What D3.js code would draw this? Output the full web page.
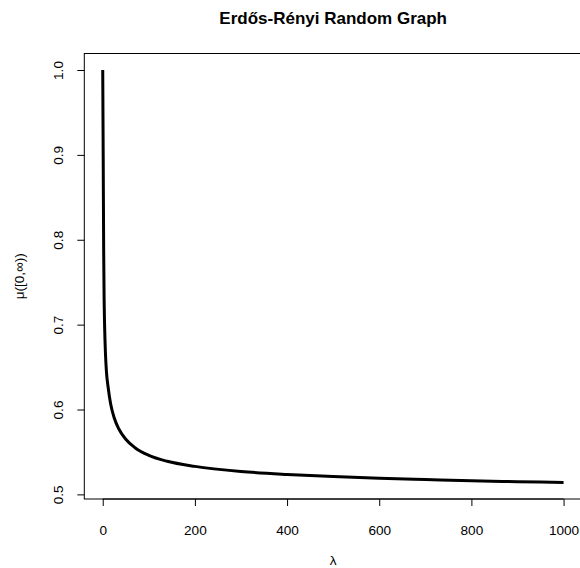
<!DOCTYPE html>
<html>
<head>
<meta charset="utf-8">
<script src="https://cdn.jsdelivr.net/npm/d3@7"></script>
<style>
  body { margin: 0; background: #fff; }
  text { font-family: "Liberation Sans", Arial, Helvetica, sans-serif; fill: #000; }
</style>
</head>
<body>
<div class="chart"></div>
<script>
const lambdas = [0, 1, 2, 3, 4, 6, 8, 12, 17, 25, 35, 50, 70, 100, 140, 200, 300, 400, 500, 600, 700, 800, 900, 1000];
const mu = [1.0, 0.9, 0.79, 0.73, 0.7, 0.665, 0.645, 0.625, 0.607, 0.59, 0.577, 0.565, 0.555, 0.546, 0.539, 0.533, 0.527, 0.5235, 0.521, 0.519, 0.5175, 0.516, 0.515, 0.514];
const xTicks = [0, 200, 400, 600, 800, 1000];
const yTicks = [0.5, 0.6, 0.7, 0.8, 0.9, 1.0];

const width = 580,
  height = 568;
const plot = { left: 84.3, right: 582, top: 53.5, bottom: 499 };

const svg = d3
  .select(".chart")
  .append("svg")
  .attr("width", width)
  .attr("height", height);

// R-style 4% padding around the data range
const xPad = 0.04 * (d3.max(lambdas) - d3.min(lambdas));
const yPad = 0.04 * (d3.max(mu) - d3.min(mu));

const x = d3
  .scaleLinear()
  .domain([d3.min(lambdas) - xPad, d3.max(lambdas) + xPad])
  .range([plot.left, plot.right]);

const y = d3
  .scaleLinear()
  .domain([d3.min(mu) - yPad, d3.max(mu) + yPad])
  .range([plot.bottom, plot.top]);

const line = d3
  .line()
  .x((d) => x(d[0]))
  .y((d) => y(d[1]))
  .curve(d3.curveMonotoneX);

svg
  .append("path")
  .datum(lambdas.map((l, i) => [l, mu[i]]))
  .attr("d", line)
  .attr("fill", "none")
  .attr("stroke", "#000")
  .attr("stroke-width", 3)
  .attr("stroke-linejoin", "round");

// box
svg
  .append("rect")
  .attr("x", plot.left)
  .attr("y", plot.top)
  .attr("width", plot.right - plot.left)
  .attr("height", plot.bottom - plot.top)
  .attr("fill", "none")
  .attr("stroke", "#000")
  .attr("stroke-width", 1);

const xAxis = svg
  .append("g")
  .attr("transform", "translate(0," + plot.bottom + ")")
  .call(d3.axisBottom(x).tickValues(xTicks).tickSize(7).tickPadding(19).tickFormat(d3.format("d")));

const yAxis = svg
  .append("g")
  .attr("transform", "translate(" + plot.left + ",0)")
  .call(d3.axisLeft(y).tickValues(yTicks).tickSize(7).tickFormat(d3.format(".1f")));

[xAxis, yAxis].forEach((g) => {
  g.select(".domain").remove();
  g.selectAll("line").attr("stroke", "#000");
  g.selectAll("text").style("font-size", "13.6px").attr("fill", "#000");
});

// x axis line between first and last tick
svg
  .append("line")
  .attr("x1", x(xTicks[0]))
  .attr("x2", x(xTicks[xTicks.length - 1]))
  .attr("y1", plot.bottom)
  .attr("y2", plot.bottom)
  .attr("stroke", "#000");

// rotated y tick labels (R las = 0)
yAxis
  .selectAll(".tick text")
  .attr("x", null)
  .attr("dy", null)
  .attr("text-anchor", "middle")
  .attr("transform", "translate(-21,0) rotate(-90)");

svg
  .append("text")
  .attr("x", (plot.left + plot.right) / 2)
  .attr("y", 24)
  .attr("text-anchor", "middle")
  .style("font-size", "17px")
  .style("font-weight", "bold")
  .text("Erdős-Rényi Random Graph");

svg
  .append("text")
  .attr("x", (plot.left + plot.right) / 2)
  .attr("y", 565)
  .attr("text-anchor", "middle")
  .style("font-size", "13.6px")
  .text("λ");

svg
  .append("text")
  .attr("transform", "translate(24," + (plot.top + plot.bottom) / 2 + ") rotate(-90)")
  .attr("text-anchor", "middle")
  .style("font-size", "13.6px")
  .text("μ([0,∞))");
</script>
</body>
</html>
